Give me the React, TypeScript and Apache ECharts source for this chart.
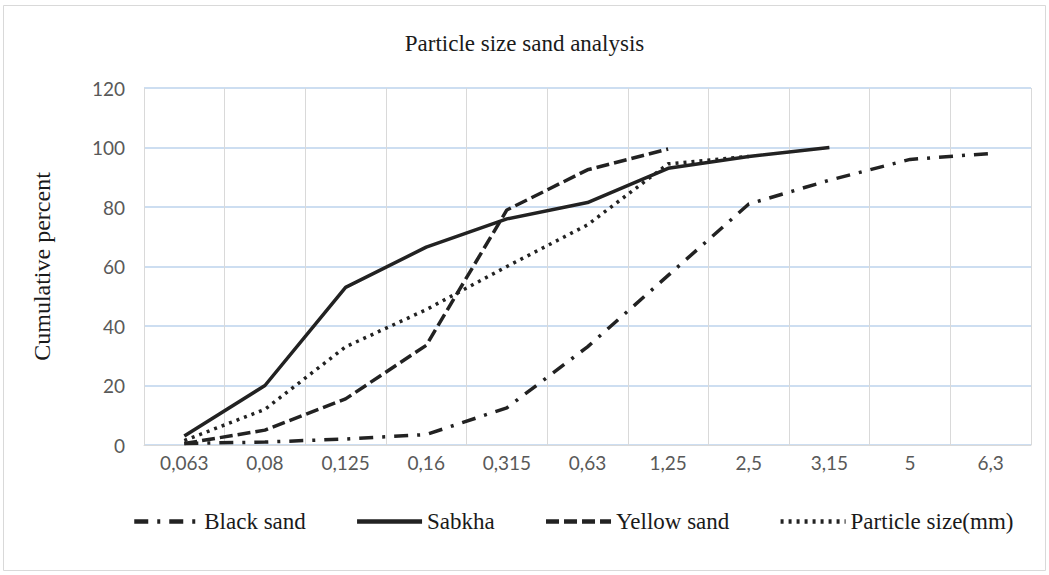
import React, { useEffect, useRef } from "react";
import * as echarts from "echarts";

const categories = ["0,063", "0,08", "0,125", "0,16", "0,315", "0,63", "1,25", "2,5", "3,15", "5", "6,3"];
const blackSand = [0.5, 1, 2, 3.5, 12.5, 33, 57, 81, 89, 96, 98];
const sabkha = [3, 20, 53, 66.5, 76, 81.5, 93, 97, 100, null, null];
const yellowSand = [0.5, 5, 15.5, 33.5, 79, 92.5, 99.5, null, null, null, null];
const particleSize = [1.5, 12, 33, 45.5, 60, 74, 94.5, 97, null, null, null];
const seriesNames = ["Black sand", "Sabkha", "Yellow sand", "Particle size(mm)"];

const serif = "'Liberation Serif', 'Times New Roman', serif";
const sans = "Lato, 'Liberation Sans', sans-serif";
const lineColor = "#222222";

export default function App() {
  const ref = useRef<HTMLDivElement>(null);
  useEffect(() => {
    document.body.style.margin = "0";
    const chart = echarts.init(ref.current!, null, { renderer: "svg" });
    const mk = (name: string, data: any[], type: any) => ({
      name,
      type: "line",
      data,
      symbol: "none",
      connectNulls: false,
      lineStyle: { color: lineColor, width: 3.5, type },
      itemStyle: { color: lineColor },
    });
    chart.setOption({
      animation: false,
      backgroundColor: "#ffffff",
      graphic: [
        {
          type: "rect",
          shape: { x: 3.5, y: 5.5, width: 1042, height: 565 },
          style: { fill: "none", stroke: "#d9d9d9", lineWidth: 1 },
          silent: true,
        },
      ],
      title: {
        text: "Particle size sand analysis",
        left: "center",
        top: 27,
        textStyle: { fontFamily: serif, fontSize: 23, fontWeight: "normal", color: "#1a1a1a" },
      },
      grid: { left: 144, right: 18, top: 88, bottom: 130 },
      xAxis: {
        type: "category",
        data: categories,
        boundaryGap: true,
        axisLine: { lineStyle: { color: "#d9d9d9", width: 1 } },
        axisTick: { show: false },
        axisLabel: { fontFamily: sans, fontSize: 19, color: "#595959", margin: 8, interval: 0 },
        splitLine: { show: true, lineStyle: { color: "#d9d9d9", width: 1 } },
      },
      yAxis: {
        type: "value",
        min: 0,
        max: 120,
        interval: 20,
        name: "Cumulative percent",
        nameLocation: "middle",
        nameGap: 90,
        nameRotate: 90,
        nameTextStyle: { fontFamily: serif, fontSize: 24, color: "#1a1a1a" },
        axisLine: { show: false },
        axisTick: { show: false },
        axisLabel: { fontFamily: sans, fontSize: 19, color: "#595959", margin: 19 },
        splitLine: { show: true, lineStyle: { color: "#bdd3ec", width: 1.5 } },
      },
      legend: {
        data: seriesNames,
        left: 127,
        top: 505,
        itemWidth: 65,
        itemHeight: 14,
        itemGap: 49,
        itemStyle: { opacity: 0 },
        lineStyle: { width: 4.5 },
        textStyle: { fontFamily: serif, fontSize: 23, color: "#1a1a1a" },
      },
      series: [
        mk(seriesNames[0], blackSand, [14, 9, 3, 9]),
        mk(seriesNames[1], sabkha, "solid"),
        mk(seriesNames[2], yellowSand, [13, 5]),
        mk(seriesNames[3], particleSize, [3, 5]),
      ],
    });
    return () => chart.dispose();
  }, []);
  return <div ref={ref} style={{ width: 1049, height: 575 }} />;
}
